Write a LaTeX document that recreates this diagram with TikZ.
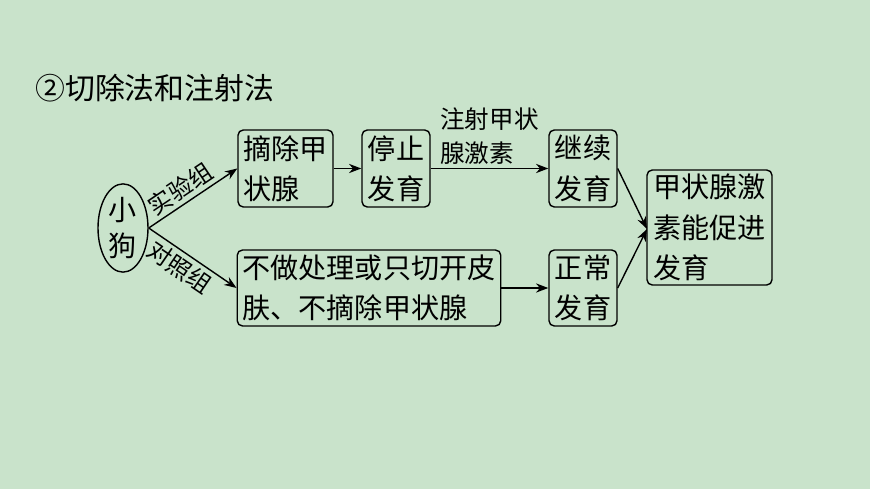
\documentclass[tikz,border=0pt]{standalone}
\usepackage{fontspec}
\setmainfont{Noto Sans CJK SC}
\usetikzlibrary{arrows.meta,shapes.geometric}
\definecolor{bgreen}{RGB}{201,227,203}
\tikzset{
    box/.style={draw, thick, rounded corners=3pt, align=left, inner xsep=3pt, inner ysep=0pt, font=\fontsize{16}{23}\selectfont}, % 方框样式
    arr/.style={thick, -{Stealth[length=7pt]}}, % 箭头样式
    lbl/.style={font=\fontsize{13.5}{17}\selectfont, inner sep=2pt} % 箭头上的文字
}
\begin{document}
\begin{tikzpicture}[x=0.02cm, y=-0.02cm]
    \fill[bgreen] (0,0) rectangle (870,489);
    \node[anchor=west, font=\fontsize{17}{20}\selectfont, inner sep=0pt] (title) at (35,88) {②切除法和注射法};

    \node[draw, thick, ellipse, minimum width=50*0.02cm, minimum height=70*0.02cm, inner sep=0pt, align=center, font=\fontsize{16}{21}\selectfont] (dog) at (123,228) {小\\狗};
    \node[box, minimum width=95*0.02cm, minimum height=77*0.02cm] (cut) at (285.5,168.5) {摘除甲\\状腺};
    \node[box, minimum width=68*0.02cm, minimum height=77*0.02cm] (stop) at (396,168.5) {停止\\发育};
    \node[box, minimum width=68*0.02cm, minimum height=77*0.02cm] (cont) at (583,168.5) {继续\\发育};
    \node[box, minimum width=262*0.02cm, minimum height=76*0.02cm] (ctrl) at (369,288) {不做处理或只切开皮\\肤、不摘除甲状腺};
    \node[box, minimum width=68*0.02cm, minimum height=76*0.02cm] (norm) at (583,288) {正常\\发育};
    \node[box, minimum width=125*0.02cm, minimum height=115*0.02cm] (res) at (709.5,227.5) {甲状腺激\\素能促进\\发育};
    \coordinate (meet) at (647,229);

    \draw[arr] (dog.east) -- node[sloped, above, lbl, pos=0.45] {实验组} (cut.west);
    \draw[arr] (dog.east) -- node[sloped, below, lbl, pos=0.45] {对照组} (ctrl.west);
    \draw[arr] (cut) -- (stop);
    \draw[arr] (stop) -- node[above, align=left, lbl, font=\fontsize{14}{19}\selectfont] {注射甲状\\腺激素} (cont);
    \draw[arr] (ctrl) -- (norm);
    \draw[arr] (cont.east) -- (meet);
    \draw[arr] (norm.east) -- (meet);
\end{tikzpicture}
\end{document}
